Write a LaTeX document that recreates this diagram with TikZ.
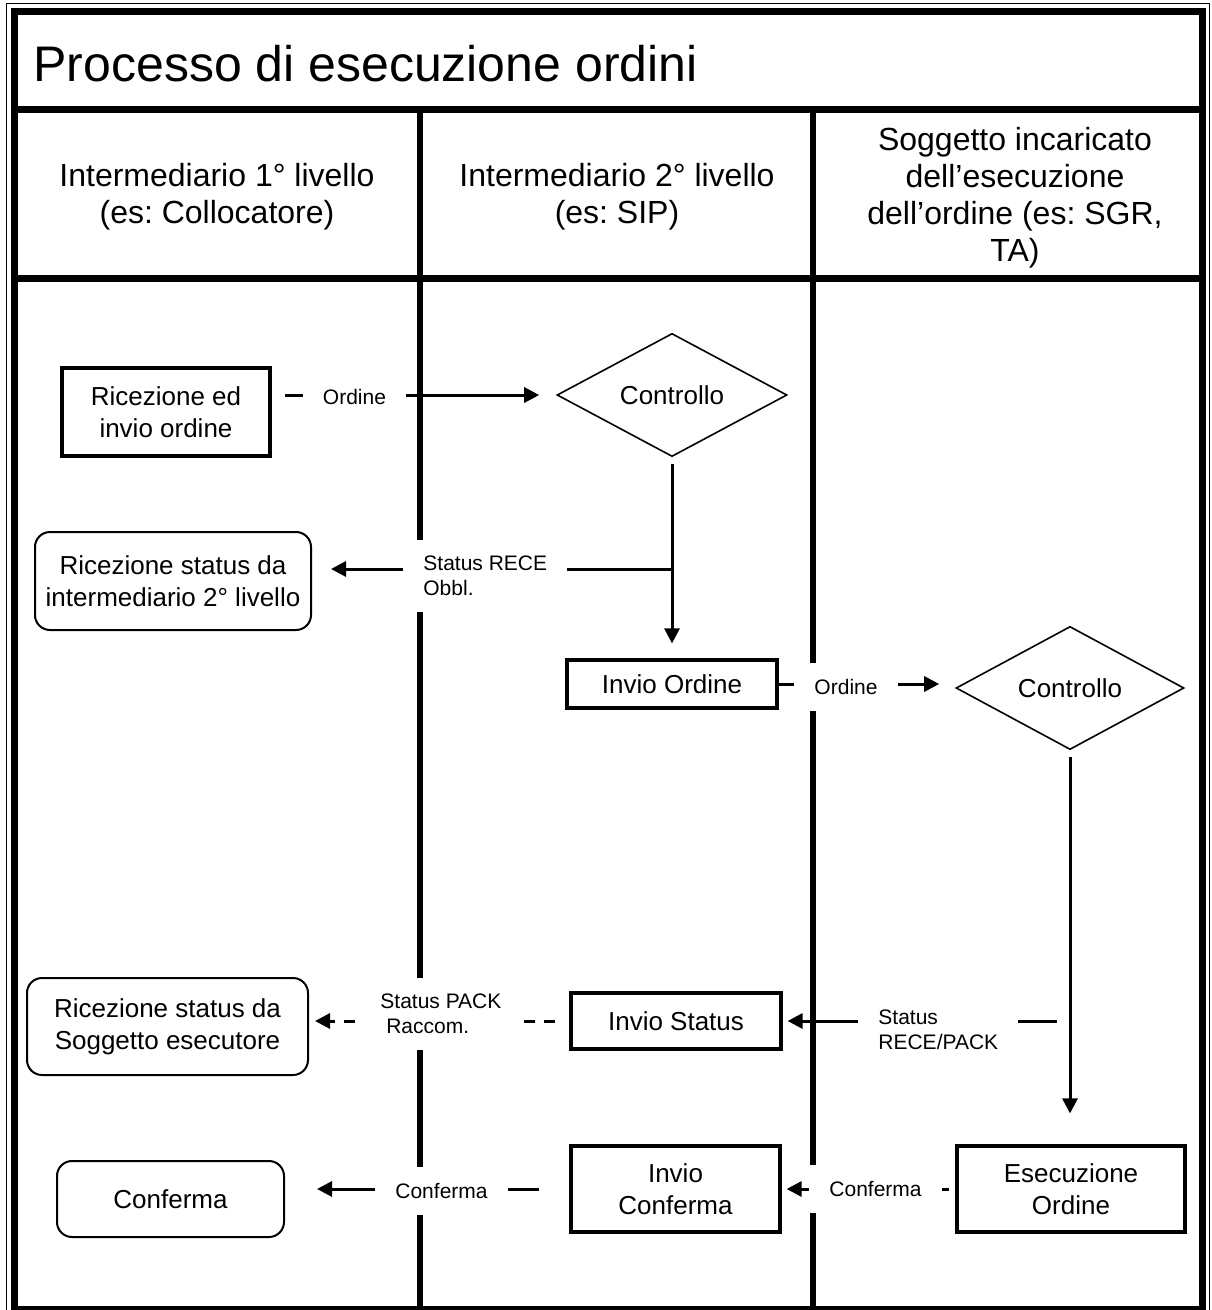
\documentclass[tikz,border=0pt]{standalone}
\usepackage{fontspec}
\setmainfont{Liberation Sans}
\usetikzlibrary{shapes.geometric,arrows.meta,calc}
\frenchspacing

\begin{document}
\begin{tikzpicture}[x=0.5pt,y=-0.5pt,
  frameline/.style={line width=3.5pt},
  laneline/.style={line width=3pt},
  header/.style={align=center, inner sep=0pt, font=\fontsize{16}{18.5}\selectfont},
  procbox/.style={draw, line width=1.6pt, fill=white, inner sep=0pt, align=center,
    font=\fontsize{13}{16}\selectfont},
  roundbox/.style={draw, line width=1pt, rounded corners=7.5pt, fill=white, inner sep=0pt,
    align=center, font=\fontsize{13}{16}\selectfont},
  decision/.style={diamond, draw, line width=0.8pt, fill=white, inner sep=0pt,
    font=\fontsize{13}{16}\selectfont},
  flow/.style={line width=1.5pt, -{Triangle[length=7.5pt,width=7.5pt]}},
  flowlabel/.style={fill=white, inner xsep=10pt, inner ysep=8pt, align=left,
    font=\fontsize{10.5}{12.5}\selectfont}]

\clip (0,0) rectangle (1211,1310);

% frame, title bar and header row
\draw[line width=0.7pt] (6.5,3.5) rectangle (1209.5,1330);
\draw[frameline] (14,11.5) rectangle (1202.5,1309.5);
\draw[frameline] (14,110) -- (1202.5,110);
\draw[frameline] (14,279) -- (1202.5,279);

% swimlane separators
\draw[laneline] (420,110) -- (420,1309.5);
\draw[laneline] (813,110) -- (813,1309.5);

\node[anchor=base west, inner sep=0pt, font=\fontsize{25}{30}\selectfont] (title) at (33,82)
  {Processo di esecuzione ordini};

\node[header] (h1) at (217,197) {Intermediario 1° livello\\(es: Collocatore)};
\node[header] (h2) at (617,197) {Intermediario 2° livello\\(es: SIP)};
\node[header] (h3) at (1015,198) {Soggetto incaricato\\dell’esecuzione\\dell’ordine (es: SGR,\\TA)};

% process steps
\node[procbox, minimum width=104pt, minimum height=44pt] (ric) at (166,412) {Ricezione ed\\invio ordine};
\node[decision, minimum width=115pt, minimum height=61pt] (ctl1) at (672,395) {Controllo};
\node[roundbox, minimum width=138pt, minimum height=49pt] (ricint) at (173,581) {Ricezione status da\\intermediario 2° livello};
\node[procbox, minimum width=105pt, minimum height=24pt] (invord) at (672,684) {Invio Ordine};
\node[decision, minimum width=114pt, minimum height=60pt] (ctl2) at (1070,688) {Controllo};
\node[roundbox, minimum width=140.5pt, minimum height=48.5pt] (ricsog) at (167.5,1026.5) {Ricezione status da\\Soggetto esecutore};
\node[procbox, minimum width=105pt, minimum height=28pt] (invstat) at (676,1021) {Invio Status};
\node[procbox, minimum width=104.5pt, minimum height=43pt] (invconf) at (675.5,1189) {Invio\\Conferma};
\node[procbox, minimum width=114pt, minimum height=43pt] (esec) at (1071,1189) {Esecuzione\\Ordine};
\node[roundbox, minimum width=113.5pt, minimum height=38pt] (conf) at (170.5,1199) {Conferma};

% connectors
\coordinate (c1s) at (ric.east |- ctl1.west);
\draw[flow, shorten <=6.5pt, shorten >=8.5pt] (c1s) -- (ctl1.west);
\draw[flow, shorten <=3.5pt, shorten >=7.5pt] (ctl1.south) -- (invord.north);
\coordinate (br1) at (672,569);
\draw[flow, shorten >=9.5pt] (br1) -- (br1 -| ricint.east);
\draw[flow, shorten >=8pt] (invord.east) -- (invord.east -| ctl2.west);
\draw[flow, shorten <=3.5pt, shorten >=15.5pt] (ctl2.south) -- (ctl2.south |- esec.north);
\coordinate (br2) at (ctl2.south |- invstat.east);
\draw[flow, shorten <=6.5pt, shorten >=2.5pt] (br2) -- (invstat.east);
\draw[flow, dash pattern=on 5.5pt off 4.5pt, shorten <=7pt, shorten >=3pt] (invstat.west) -- (invstat.west -| ricsog.east);
\draw[flow, shorten <=3pt, shorten >=2.5pt] (esec.west) -- (esec.west -| invconf.east);
\draw[flow, shorten <=15pt, shorten >=16pt] (invconf.west) -- (invconf.west -| conf.east);

% connector labels
\node[flowlabel] (l1) at (354.5,397) {Ordine};
\node[flowlabel, anchor=west] (l2) at (403,576) {Status RECE\\Obbl.};
\node[flowlabel] (l3) at (846,687) {Ordine};
\node[flowlabel, anchor=west] (l4) at (858,1030) {Status\\RECE/PACK};
\node[flowlabel, anchor=west] (l5) at (360,1014) {Status PACK\\\hspace*{0.28em}Raccom.};
\node[flowlabel] (l6) at (875.5,1189) {Conferma};
\node[flowlabel] (l7) at (441.5,1191) {Conferma};

\end{tikzpicture}
\end{document}
